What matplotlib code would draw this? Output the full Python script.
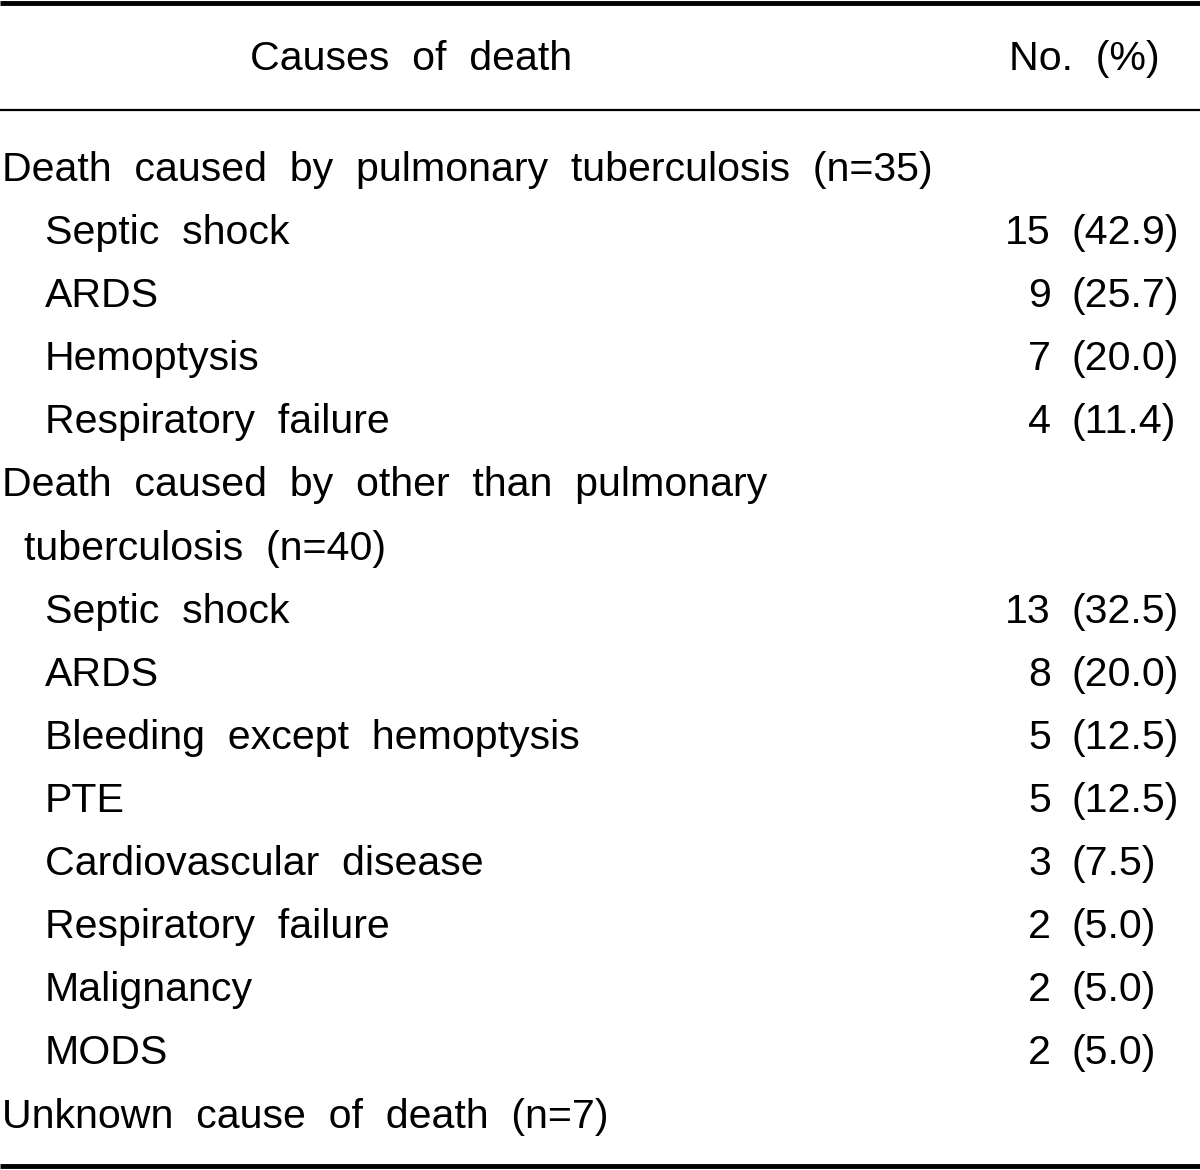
import matplotlib
matplotlib.use("Agg")
from matplotlib import pyplot as plt

# table rows: label, indent level, count, percent
labels = [
    "Death caused by pulmonary tuberculosis (n=35)",
    "Septic shock",
    "ARDS",
    "Hemoptysis",
    "Respiratory failure",
    "Death caused by other than pulmonary",
    "tuberculosis (n=40)",
    "Septic shock",
    "ARDS",
    "Bleeding except hemoptysis",
    "PTE",
    "Cardiovascular disease",
    "Respiratory failure",
    "Malignancy",
    "MODS",
    "Unknown cause of death (n=7)",
]
indent = [0, 2, 2, 2, 2, 0, 1, 2, 2, 2, 2, 2, 2, 2, 2, 0]
counts = [None, 15, 9, 7, 4, None, None, 13, 8, 5, 5, 3, 2, 2, 2, None]
percents = [None, "42.9", "25.7", "20.0", "11.4", None, None,
            "32.5", "20.0", "12.5", "12.5", "7.5", "5.0", "5.0", "5.0", None]

header_left = "Causes of death"
header_right = "No. (%)"

plt.rcParams['font.family'] = ['Liberation Sans', 'DejaVu Sans']

W, H = 1200, 1170
fig = plt.figure(figsize=(W / 100, H / 100), dpi=100)
ax = fig.add_axes([0, 0, 1, 1])
ax.set_xlim(0, W)
ax.set_ylim(H, 0)
ax.axis("off")

fs = 29.6


def spaced(s):
    # the original font has wide word gaps
    return s.replace(" ", "  ")


# rules
ax.plot([0, W], [3, 3], color="black", lw=3.5, solid_capstyle="butt")
ax.plot([0, W], [110, 110], color="black", lw=1.6, solid_capstyle="butt")
ax.plot([0, W], [1166, 1166], color="black", lw=3.5, solid_capstyle="butt")

ax.text(411, 59, spaced(header_left), fontsize=fs, ha="center", va="center")
ax.text(1084, 59, spaced(header_right), fontsize=fs, ha="center", va="center")

x_indent = {0: 2, 1: 24, 2: 45}
y0, dy = 170, 63.1
for i, lab in enumerate(labels):
    y = y0 + i * dy
    ax.text(x_indent[indent[i]], y, spaced(lab), fontsize=fs, ha="left", va="center")
    if counts[i] is not None:
        ax.text(1051, y, str(counts[i]), fontsize=fs, ha="right", va="center")
        ax.text(1071, y, "(" + percents[i] + ")", fontsize=fs, ha="left", va="center")

fig.savefig("out.png", dpi=100)
